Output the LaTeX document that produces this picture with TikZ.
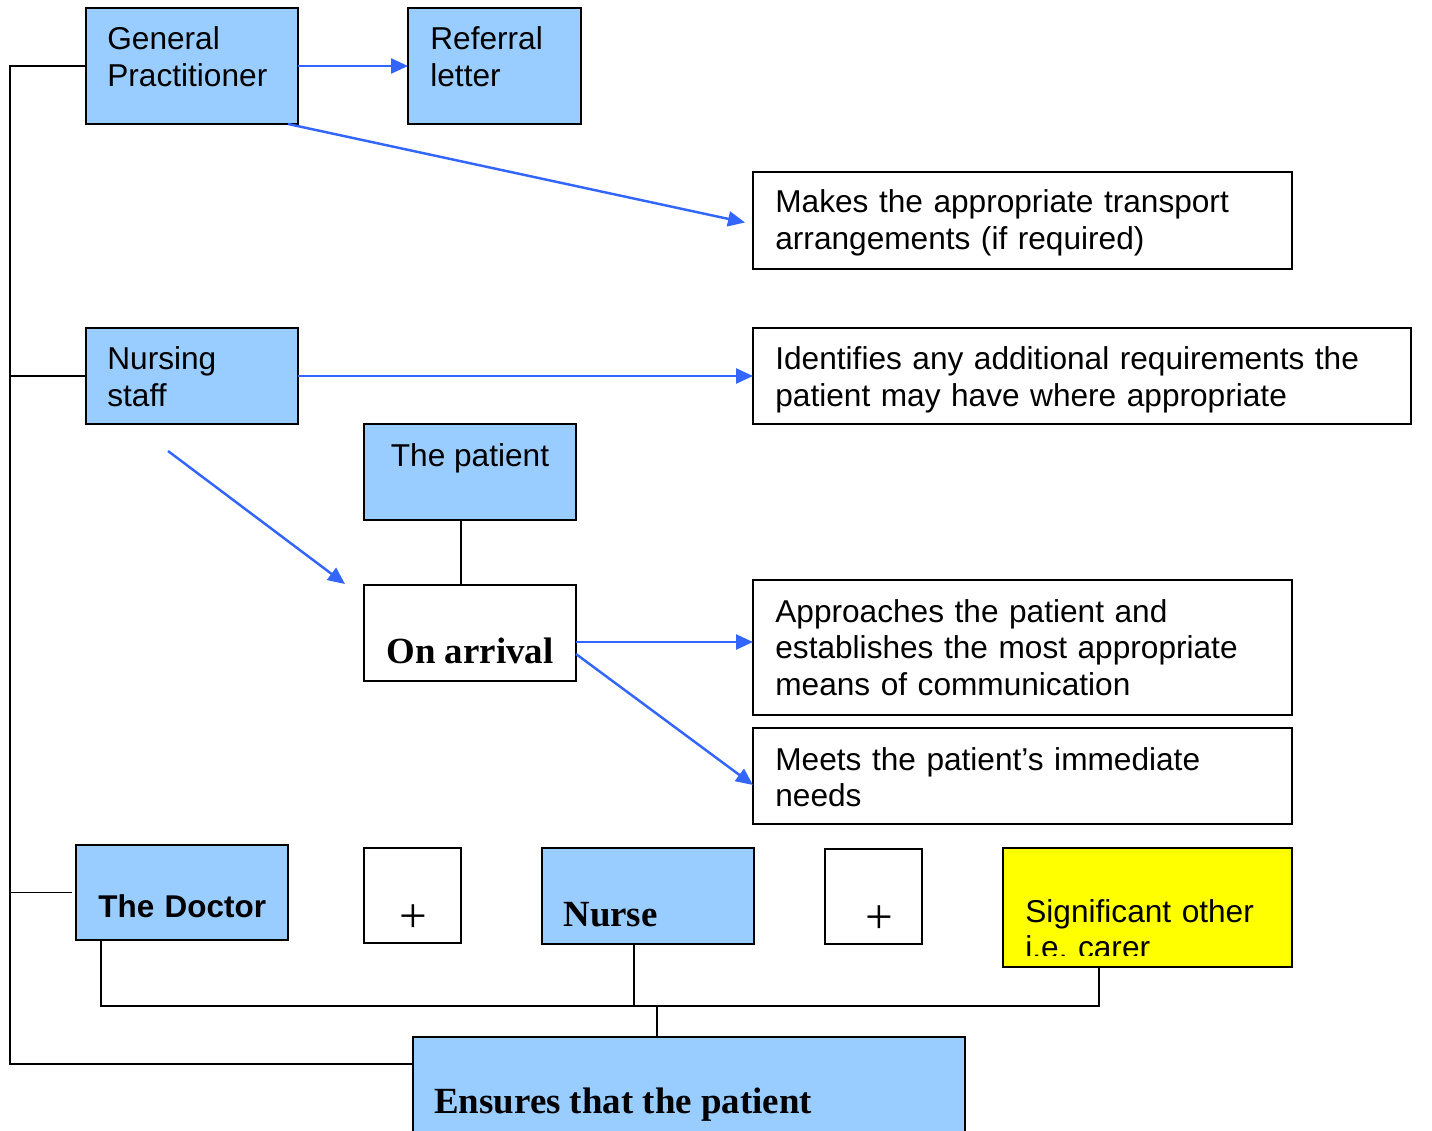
\documentclass[tikz,border=0pt]{standalone}
\usepackage{fontspec}
\setmainfont{Liberation Sans}
\newfontfamily\serifbf{Liberation Serif}
\usepackage{tikz}
\usetikzlibrary{calc}
\usetikzlibrary{arrows.meta}
\definecolor{boxblue}{HTML}{99CCFF}
\definecolor{arrblue}{HTML}{3366FF}
\definecolor{carer}{HTML}{FFFF00}
\newcommand{\boxfont}{\fontsize{18}{21}\selectfont}
\newcommand{\headfont}{\serifbf\bfseries\fontsize{21}{24}\selectfont}
\newcommand{\plusfont}{\serifbf\fontsize{28}{30}\selectfont}
\frenchspacing

\begin{document}
\begin{tikzpicture}[
x=0.02cm, y=-0.02cm,
Box/.style={draw, line width=1.1pt, anchor=north west, inner sep=0pt, outer sep=0pt},
Blue/.style={Box, fill=boxblue},
sz/.style 2 args={minimum width=#1*0.02cm, minimum height=#2*0.02cm},
Txt/.style={font=\boxfont, inner sep=0pt, anchor=base west, align=left, text width=12cm},
Head/.style={font=\headfont, inner sep=0pt, anchor=base west},
Plus/.style={font=\plusfont, inner sep=0pt, anchor=base},
Arr/.style={-{Triangle[length=0.34cm, width=0.3cm]}, arrblue, line width=1.4pt},
Conn/.style={line width=0.85pt}
]
\useasboundingbox (0,0) rectangle (1432,1131);
\clip (0,0) rectangle (1432,1131);

% boxes (in pixels of the original)
\node[Blue, sz={212}{116}] (gp) at (86,8) {};
\node[Blue, sz={173}{116}] (ref) at (408,8) {};
\node[Box,  sz={539}{97}]  (trans) at (753,172) {};
\node[Blue, sz={212}{96}]  (ns) at (86,328) {};
\node[Box,  sz={658}{96}]  (ident) at (753,328) {};
\node[Blue, sz={212}{96}]  (pat) at (364,424) {};
\node[Box,  sz={212}{96}]  (arr) at (364,585) {};
\node[Box,  sz={539}{135}] (appr) at (753,580) {};
\node[Box,  sz={539}{96}]  (meet) at (753,728) {};
\node[Blue, sz={212}{95}]  (doc) at (76,845) {};
\node[Box,  sz={97}{95}]   (plusA) at (364,848) {};
\node[Blue, sz={212}{96}]  (nur) at (542,848) {};
\node[Box,  sz={97}{95}]   (plusB) at (825,849) {};
\node[Box, fill=carer, sz={289}{119}] (sig) at (1003,848) {};
\node[Blue, sz={552}{140}] (ens) at (413,1037) {};

% texts
\node[Txt] (gp-t) at (107,50) {General\\Practitioner};
\node[Txt] (ref-t) at (430,50) {Referral\\letter};
\node[Txt] (trans-t) at (775,213) {Makes the appropriate transport\\arrangements (if required)};
\node[Txt] (ns-t) at (107,370) {Nursing\\staff};
\node[Txt] (ident-t) at (775,370) {Identifies any additional requirements the\\patient may have where appropriate};
\node[font=\boxfont, inner sep=0pt, anchor=base] (pat-t) at (470,466) {The patient};
\node[Head, anchor=base] (arr-t) at (470,663) {On arrival};
\node[Txt] (appr-t) at (775,622) {Approaches the patient and\\establishes the most appropriate\\means of communication};
\node[Txt] (meet-t) at (775,770) {Meets the patient’s immediate\\needs};
\node[Txt, font=\fontsize{17.9}{21}\selectfont\bfseries] (doc-t) at (98,917) {The Doctor};
\node[Plus] (plusA-t) at (413,932) {+};
\node[Head] (nur-t) at (563,926) {Nurse};
\node[Plus] (plusB-t) at (879,933) {+};
\begin{scope}
\clip (sig.north west) rectangle ($(sig.south east)+(0,-12)$);
\node[Txt] (sig-t) at (1025,922) {Significant other\\i.e. carer};
\end{scope}
\node[Head] (ens-t) at (434,1113) {Ensures that the patient};

% blue arrows
\draw[Arr] (gp.east) -- (ref.west);
\draw[Arr] ($(gp.south east)+(-10,0)$) -- ($(trans.west)+(-8,2)$);
\draw[Arr] (ns.east) -- (ident.west);
\draw[Arr] ($(ns.south west)+(82,27)$) -- ($(arr.north west)+(-19,-1)$);
\draw[Arr] ($(arr.east)+(0,9)$) coordinate (arr-r) -- (arr-r -| appr.west);
\draw[Arr] ($(arr.east)+(0,21)$) -- ($(meet.west)+(0,9)$);

% black connectors
\coordinate (spine) at (10,0);
\coordinate (bus) at (0,1006);
\coordinate (ens-l) at ($(ens.north west)+(0,27)$);
\draw[Conn] (gp.west) -- (gp.west -| spine) |- (ens-l);
\draw[Conn] (ns.west) -- (ns.west -| spine);
\draw[Conn] ($(doc.west)+(-4,0)$) -- (doc.west -| spine);
\draw[Conn] ($(pat.south)+(-9,0)$) -- ($(arr.north)+(-9,0)$);
\draw[Conn] ($(doc.south west)+(25,0)$) coordinate (doc-b) -- (doc-b |- bus) -| ($(sig.south west)+(96,0)$);
\draw[Conn] ($(nur.south west)+(92,0)$) coordinate (nur-b) -- (nur-b |- bus);
\draw[Conn] ($(ens.north west)+(244,0)$) coordinate (ens-t) -- (ens-t |- bus);

\end{tikzpicture}
\end{document}
